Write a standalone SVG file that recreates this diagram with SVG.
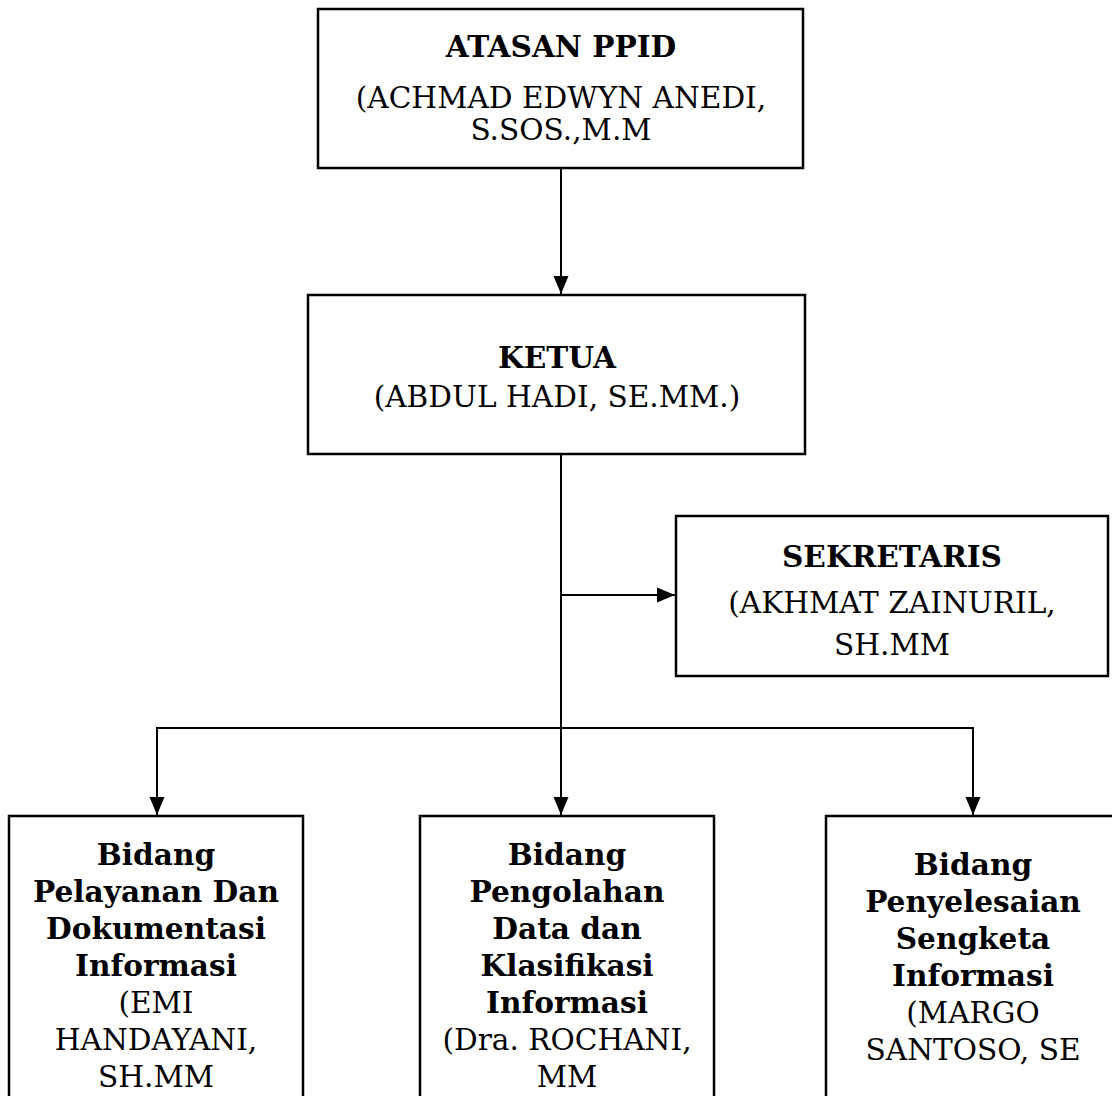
<svg xmlns="http://www.w3.org/2000/svg" width="1112" height="1096" viewBox="0 0 1112 1096">
<defs>
<marker id="arr" markerUnits="userSpaceOnUse" markerWidth="18" markerHeight="16" viewBox="0 0 18 16" refX="18" refY="8" orient="auto">
<path d="M0,0.5 L18,8 L0,15.5 Z" fill="#000"/>
</marker>
<style>
.box{fill:#fff;stroke:#000;stroke-width:2.5}
.t{font-family:"DejaVu Serif","Liberation Serif",serif;font-size:29.6px;text-anchor:middle;fill:#000}
.b{font-weight:bold}
.c{fill:none;stroke:#000;stroke-width:2}
</style>
</defs>
<rect width="1112" height="1096" fill="#fff"/>
<g id="connectors">
<line class="c" x1="561" y1="169" x2="561" y2="294" marker-end="url(#arr)"/>
<line class="c" x1="561" y1="454" x2="561" y2="728"/>
<line class="c" x1="561" y1="595" x2="675" y2="595" marker-end="url(#arr)"/>
<line class="c" x1="156" y1="728" x2="974" y2="728"/>
<line class="c" x1="157" y1="727" x2="157" y2="815" marker-end="url(#arr)"/>
<line class="c" x1="561" y1="728" x2="561" y2="815" marker-end="url(#arr)"/>
<line class="c" x1="973" y1="727" x2="973" y2="815" marker-end="url(#arr)"/>
</g>
<g id="atasan">
<rect class="box" x="318" y="9" width="485" height="159"/>
<text class="t b" x="561" y="57">ATASAN PPID</text>
<text class="t" x="561" y="108">(ACHMAD EDWYN ANEDI,</text>
<text class="t" x="561" y="140">S.SOS.,M.M</text>
</g>
<g id="ketua">
<rect class="box" x="308" y="295" width="497" height="159"/>
<text class="t b" x="557" y="368">KETUA</text>
<text class="t" x="557" y="407">(ABDUL HADI, SE.MM.)</text>
</g>
<g id="sekretaris">
<rect class="box" x="676" y="516" width="432" height="160"/>
<text class="t b" x="892" y="567">SEKRETARIS</text>
<text class="t" x="892" y="613">(AKHMAT ZAINURIL,</text>
<text class="t" x="892" y="655">SH.MM</text>
</g>
<g id="bidang1">
<rect class="box" x="9" y="816" width="294" height="300"/>
<text class="t b" x="156" y="865">Bidang</text>
<text class="t b" x="156" y="902">Pelayanan Dan</text>
<text class="t b" x="156" y="939">Dokumentasi</text>
<text class="t b" x="156" y="976">Informasi</text>
<text class="t" x="156" y="1013">(EMI</text>
<text class="t" x="156" y="1050">HANDAYANI,</text>
<text class="t" x="156" y="1087">SH.MM</text>
</g>
<g id="bidang2">
<rect class="box" x="420" y="816" width="294" height="300"/>
<text class="t b" x="567" y="865">Bidang</text>
<text class="t b" x="567" y="902">Pengolahan</text>
<text class="t b" x="567" y="939">Data dan</text>
<text class="t b" x="567" y="976">Klasifikasi</text>
<text class="t b" x="567" y="1013">Informasi</text>
<text class="t" x="567" y="1050">(Dra. ROCHANI,</text>
<text class="t" x="567" y="1087">MM</text>
</g>
<g id="bidang3">
<rect class="box" x="826" y="816" width="300" height="300"/>
<text class="t b" x="973" y="875">Bidang</text>
<text class="t b" x="973" y="912">Penyelesaian</text>
<text class="t b" x="973" y="949">Sengketa</text>
<text class="t b" x="973" y="986">Informasi</text>
<text class="t" x="973" y="1023">(MARGO</text>
<text class="t" x="973" y="1060">SANTOSO, SE</text>
</g>
</svg>
